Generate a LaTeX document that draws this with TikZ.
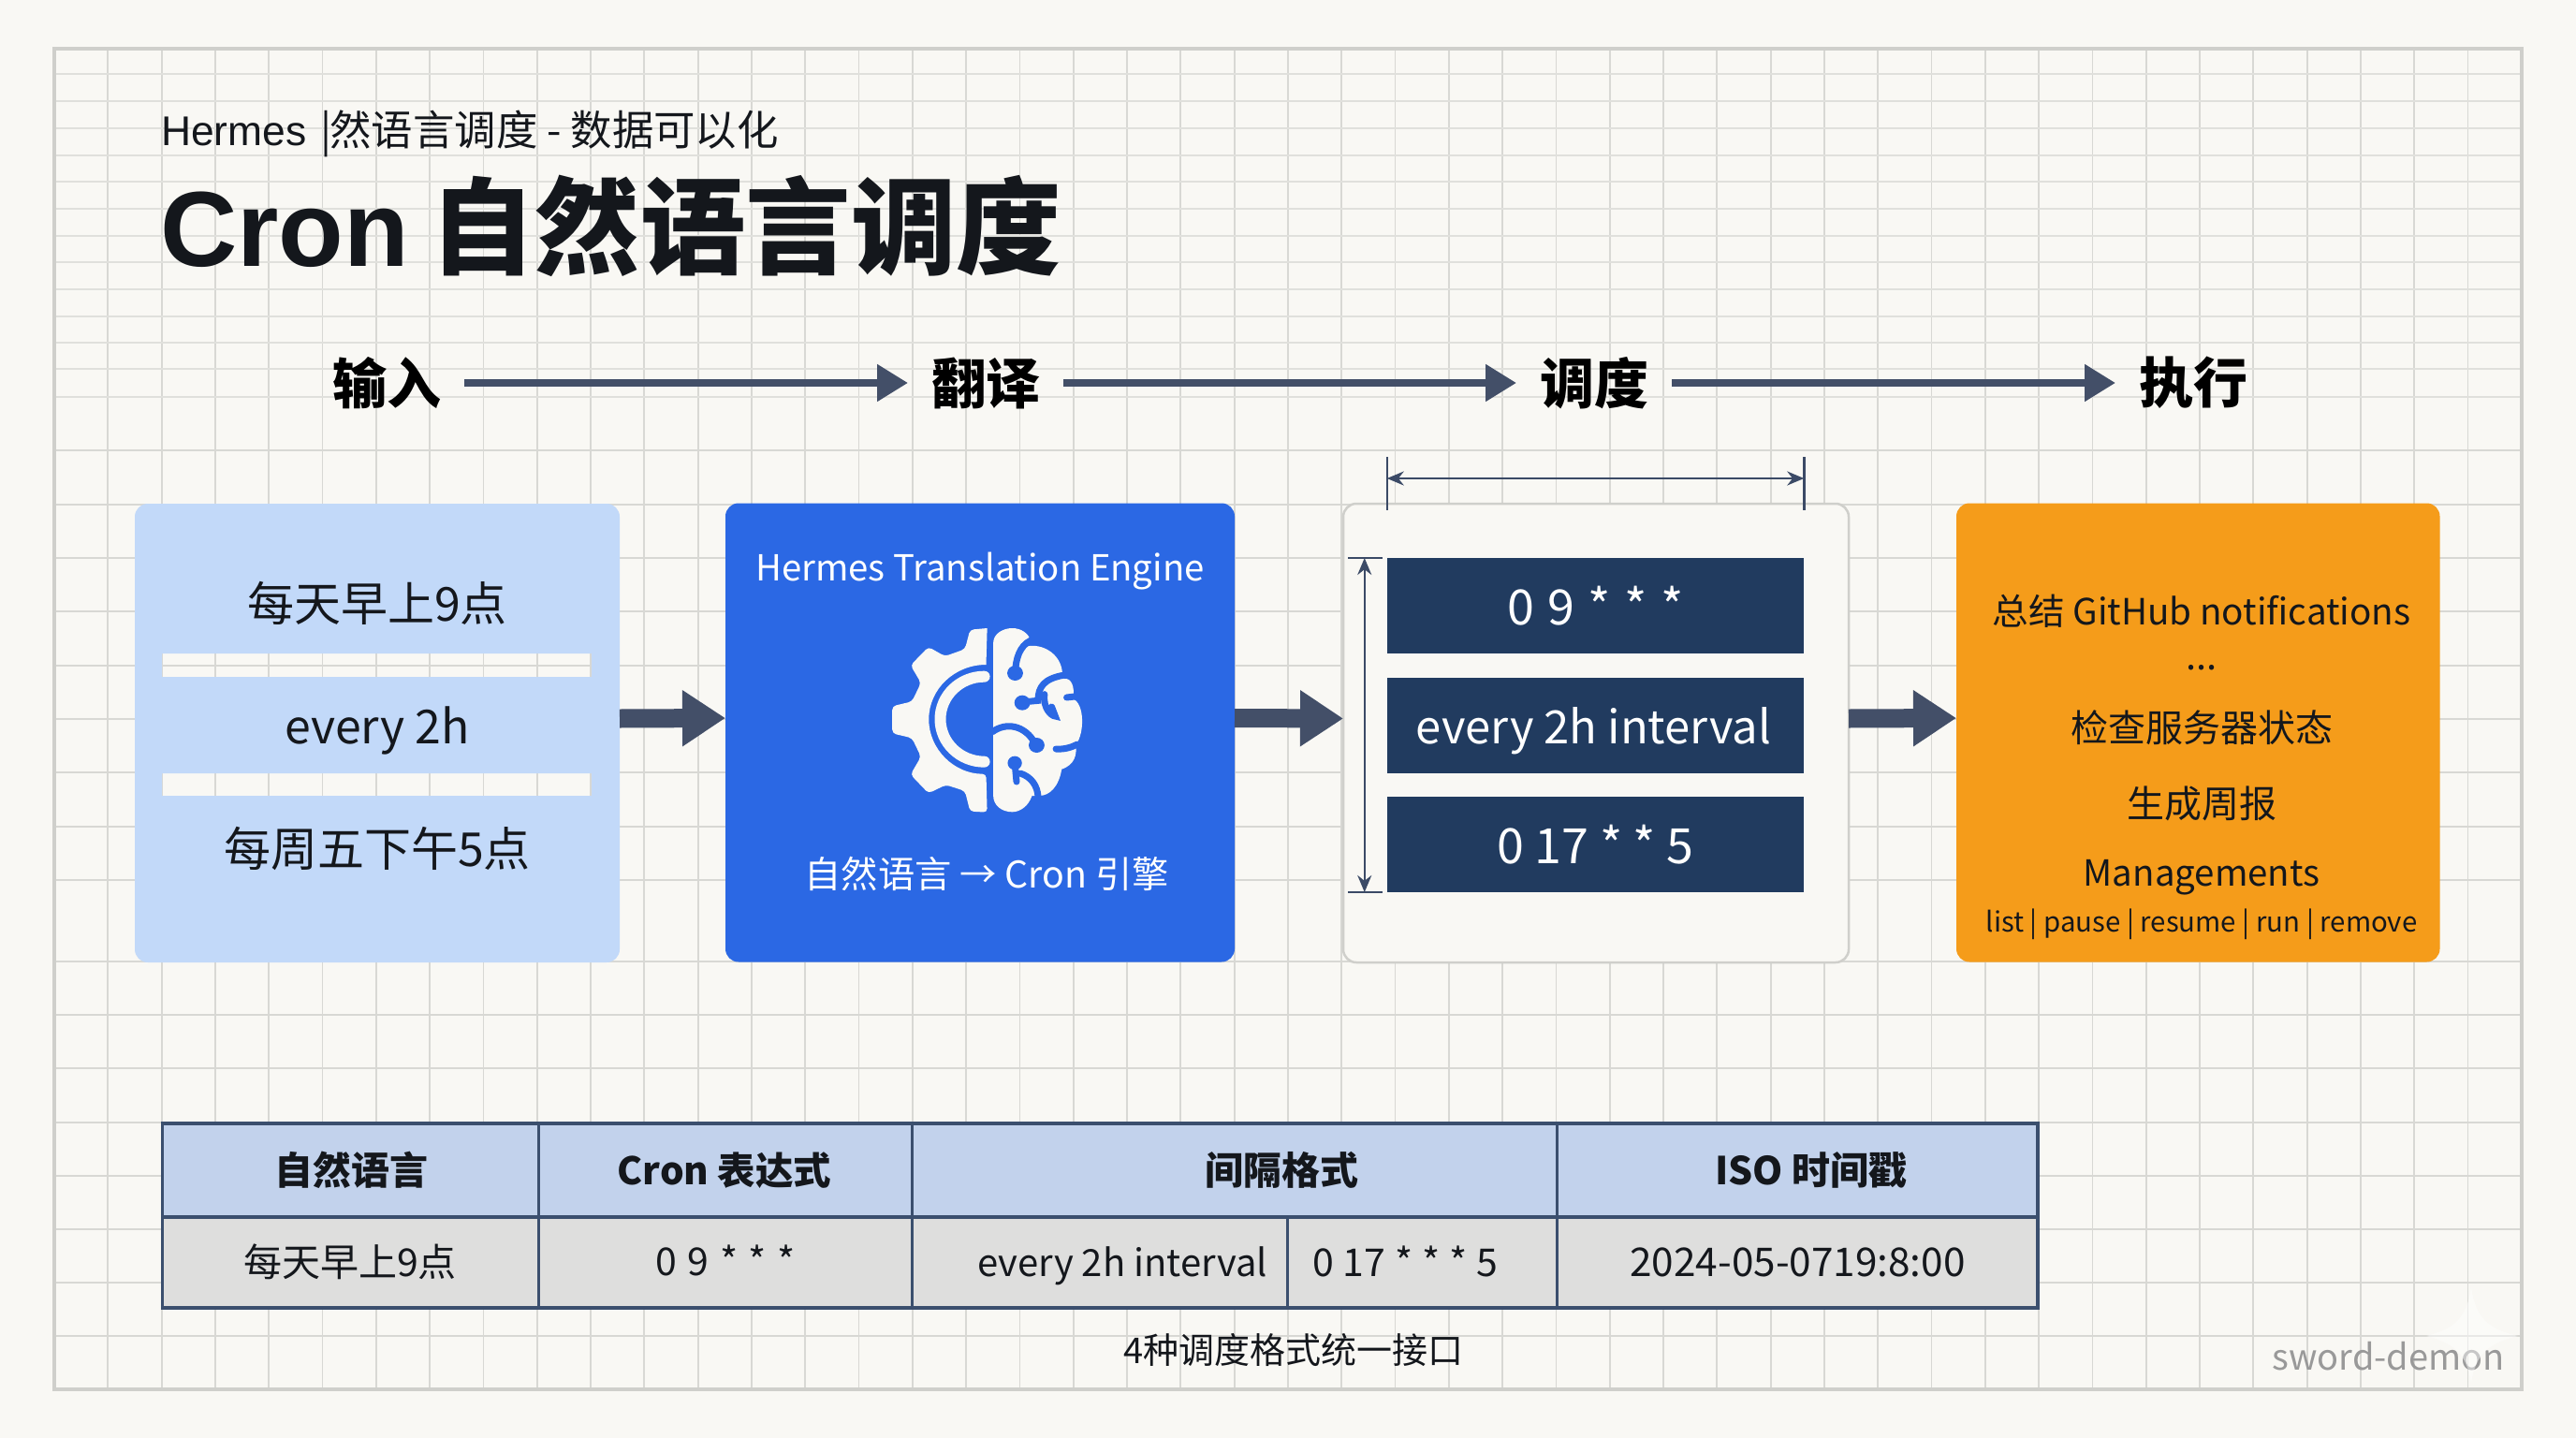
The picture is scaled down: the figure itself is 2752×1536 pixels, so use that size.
\documentclass[tikz,border=0pt]{standalone}
\usepackage{fontspec}
\setmainfont{Noto Sans CJK SC}
\newfontfamily\latinsans{Liberation Sans}
\usetikzlibrary{arrows.meta,calc}
\definecolor{pagebg}{HTML}{F9F8F4}
\definecolor{gridc}{HTML}{D8D8D4}
\definecolor{gridl}{HTML}{E0E0DC}
\definecolor{framec}{HTML}{CFCFCB}
\definecolor{arrowc}{HTML}{434F68}
\definecolor{dimc}{HTML}{3B4A66}
\definecolor{lightb}{HTML}{C2D9F9}
\definecolor{blueb}{HTML}{2B68E4}
\definecolor{orangeb}{HTML}{F59C1A}
\definecolor{navyb}{HTML}{213B5F}
\definecolor{headc}{HTML}{C2D2EC}
\definecolor{rowc}{HTML}{DEDEDD}
\definecolor{tablec}{HTML}{3B4F6E}
\definecolor{inkc}{HTML}{14171C}
\definecolor{iconc}{HTML}{F9F8F4}
\newcommand{\fsz}[1]{\fontsize{#1}{#1}\selectfont}
\newcommand{\wsp}[2]{\spaceskip=#1em\relax #2}
\tikzset{
  txt/.style={inner sep=0pt,outer sep=0pt,text=inkc,font=\fsz{#1}},
  wtxt/.style={inner sep=0pt,outer sep=0pt,text=white,font=\fsz{#1}},
  stephead/.style={inner xsep=25pt,inner ysep=0pt,outer sep=0pt,text=black,font=\fsz{58}\bfseries},
  steparrow/.style={draw=arrowc,line width=8pt,-{Triangle[length=33pt,width=38pt]}},
  blockarrow/.style={draw=arrowc,line width=20pt,-{Triangle[length=46pt,width=57pt]}},
  cardbox/.style={inner sep=0pt,outer sep=0pt,rounded corners=14pt,minimum width=#1,minimum height=490pt},
  navybar/.style={fill=navyb,inner sep=0pt,outer sep=0pt,minimum width=445.5pt,minimum height=102pt,text=white},
  dimline/.style={draw=dimc,line width=2.5pt},
  dimarrow/.style={draw=dimc,line width=2.5pt,{Stealth[length=18pt,width=15pt]}-{Stealth[length=18pt,width=15pt]}},
  tline/.style={draw=tablec,line width=2.5pt},
  touter/.style={draw=tablec,line width=3.5pt},
  cut/.style={draw=blueb,line width=7pt,line cap=round},
}
\begin{document}
\begin{tikzpicture}[x=1pt,y=-1pt]
\useasboundingbox (0,0) rectangle (2752,1536);
\fill[pagebg] (0,0) rectangle (2752,1536);
% grid
\foreach \k in {1,...,45} \draw[gridc,line width=1.8pt] ({58+57.3*\k},52) -- ({58+57.3*\k},1484);
\foreach \yy in {79,108,137,166,194,223,252,280,309,338,366,394,424}
  \draw[gridl,line width=1.8pt] (58,\yy) -- (2694,\yy);
\foreach \yy in {481,539,596,653,711,768,825,883,940,1027,1084,1141,1199,1256,1313,1370,1427}
  \draw[gridc,line width=1.8pt] (58,\yy) -- (2694,\yy);
\draw[framec,line width=3.5pt] (58,52) rectangle (2694,1484);
% title
\node[txt=44.4,anchor=base west] (subtitle) at (172,156) {{\latinsans Hermes}\hspace{15pt}|\hspace{-2pt}然语言调度 - 数据可以化};
\node[txt=112.5,anchor=base west] (title) at (171,284) {{\latinsans\fontsize{114}{114}\selectfont\bfseries Cron}\hspace{22.5pt}\bfseries 自然语言调度};
% steps
\node[stephead] (s1) at (413,409) {输入};
\node[stephead] (s2) at (1053,409) {翻译};
\node[stephead] (s3) at (1703,409) {调度};
\node[stephead] (s4) at (2343,409) {执行};
\draw[steparrow] (s1) -- (s2);
\draw[steparrow] (s2) -- (s3);
\draw[steparrow] (s3) -- (s4);
% input card with two cut-out bars
\fill[lightb,even odd rule,rounded corners=14pt] (144,538) rectangle (662,1028)
  [sharp corners] (173,698) rectangle (632,723) (173,826) rectangle (632,850);
\node[cardbox=518pt] (cinput) at (403,783) {};
\node[txt=50] (i1) at (403,644) {每天早上9点};
\node[txt=50] (i2) at (403,780) {every 2h};
\node[txt=50] (i3) at (403,906) {每周五下午5点};
% engine card
\node[cardbox=544pt,fill=blueb] (cengine) at (1047,782.5) {};
\node[wtxt=38.3] (e1) at (1047,610) {Hermes Translation Engine};
\node[wtxt=39.3] (e2) at (1054,933) {自然语言 → Cron 引擎};
% icon
\begin{scope}[shift={(760,520)},x=0.38265pt,y=-0.33333pt]
  \fill[iconc,rounded corners=4pt] (770,453) -- (722,458) -- (708,520) -- (652,543) -- (606,513) -- (556,572) -- (585,628) -- (560,688) -- (505,703) -- (505,790) -- (560,805) -- (585,865) -- (556,922) -- (606,982) -- (655,955) -- (708,975) -- (722,1040) -- (770,1043) -- (767,920) [sharp corners] arc[start angle=90,end angle=270,x radius=160,y radius=175] -- cycle;
  \draw[iconc,line width=12pt,line cap=round] (762,608) arc[start angle=-90,end angle=-270,x radius=123,y radius=136.5];
  \fill[iconc] (787,500) .. controls (787,470) and (815,453) .. (840,453)
    .. controls (865,453) and (885,470) .. (890,490)
    -- (870,515) .. controls (915,495) and (978,530) .. (980,600)
    -- (985,615) .. controls (1005,612) and (1015,640) .. (1010,680)
    .. controls (1042,695) and (1042,790) .. (1018,825)
    .. controls (1020,860) and (1015,890) .. (978,905)
    .. controls (970,960) and (945,990) .. (915,990)
    -- (895,990) .. controls (885,1025) and (860,1042) .. (840,1042)
    .. controls (810,1042) and (787,1020) .. (787,990) -- cycle;
  \draw[cut] (892,492) .. controls (860,510) and (850,550) .. (848,597);
  \fill[blueb] (848,597) ellipse[x radius=22,y radius=24];
  \draw[cut] (982,604) .. controls (930,615) and (912,640) .. (912,685) -- (868,690);
  \fill[blueb] (868,692) ellipse[x radius=22,y radius=24];
  \draw[cut] (930,665) .. controls (925,710) and (950,735) .. (960,735) -- (950,705);
  \draw[cut] (1014,672) -- (992,675);
  \draw[cut] (785,785) .. controls (820,755) and (875,760) .. (905,825);
  \fill[blueb] (908,828) ellipse[x radius=22,y radius=24];
  \draw[cut] (962,840) .. controls (985,842) and (1005,835) .. (1022,825);
  \fill[blueb] (847,885) ellipse[x radius=20,y radius=22];
  \draw[cut] (847,885) -- (852,945);
  \draw[cut] (862,918) .. controls (895,930) and (910,960) .. (912,992);
\end{scope}
% schedule card
\node[cardbox=540pt,fill=pagebg,draw=framec,line width=2.5pt] (csched) at (1705,783) {};
\node[navybar,font=\fsz{52}] (b1) at (1704.5,647) {\wsp{0.28}{0 9 * * *}};
\node[navybar,font=\fsz{49}] (b2) at (1704.5,774.5) {};
\node[txt=49,text=white] (b2t) at (1702.5,781) {every 2h interval};
\node[navybar,font=\fsz{52}] (b3) at (1704.5,902) {\wsp{0.22}{0 17 * * 5}};
\draw[dimline] ([yshift=108pt]b1.north west) -- ([yshift=51pt]b1.north west);
\draw[dimline] ([yshift=108pt]b1.north east) -- ([yshift=51pt]b1.north east);
\draw[dimarrow] ([yshift=85pt]b1.north west) -- ([yshift=85pt]b1.north east);
\draw[dimline] ([xshift=-41.5pt]b1.north west) -- ([xshift=-5pt]b1.north west);
\draw[dimline] ([xshift=-41.5pt]b3.south west) -- ([xshift=-5pt]b3.south west);
\draw[dimarrow] ([xshift=-24pt]b1.north west) -- ([xshift=-24pt]b3.south west);
% output card
\node[cardbox=516.5pt,fill=orangeb] (coutput) at (2348.25,782.5) {};
\node[txt=38.6] (o1) at (2352,653) {总结 GitHub notifications};
\node[txt=40] (o2) at (2352,713) {...};
\node[txt=40] (o3) at (2352,777) {检查服务器状态};
\node[txt=40] (o4) at (2352,858) {生成周报};
\node[txt=38.4] (o5) at (2352,937) {Managements};
\node[txt=29.4] (o6) at (2352,987) {list | pause | resume | run | remove};
% block arrows
\draw[blockarrow] ([yshift=15.5pt]cinput.east) -- ([yshift=15.5pt]cengine.west);
\draw[blockarrow] ([yshift=15.5pt]cengine.east) -- ([yshift=15.5pt]csched.west);
\draw[blockarrow] ([yshift=15.5pt]csched.east) -- ([yshift=15.5pt]coutput.west);
% table
\fill[headc] (173.5,1200) rectangle (2177,1300);
\fill[rowc] (173.5,1300) rectangle (2177,1397);
\draw[tline] (575.5,1200) -- (575.5,1397);
\draw[tline] (974.7,1200) -- (974.7,1397);
\draw[tline] (1663.5,1200) -- (1663.5,1397);
\draw[tline] (1375.7,1300) -- (1375.7,1397);
\draw[touter] (173.5,1300) -- (2177,1300);
\draw[touter] (173.5,1200) rectangle (2177,1397);
\node[txt=41] (h1) at (375,1250) {\bfseries 自然语言};
\node[txt=40.5] (h2) at (774,1250) {\bfseries Cron 表达式};
\node[txt=41] (h3) at (1369,1250) {\bfseries 间隔格式};
\node[txt=41] (h4) at (1935,1250) {\bfseries ISO 时间戳};
\node[txt=41] (r1) at (374,1348) {每天早上9点};
\node[txt=41] (r2) at (775,1346) {\wsp{0.28}{0 9 * * *}};
\node[txt=40] (r3) at (1199,1352) {every 2h interval};
\node[txt=41] (r4) at (1501,1347) {\wsp{0.24}{0 17 * * * 5}};
\node[txt=42.3] (r5) at (1920.5,1348) {2024-05-0719:8:00};
\node[txt=38] (cap) at (1382,1442) {4种调度格式统一接口};
% watermark
\node[inner sep=0pt,text=black!40,font=\fsz{38},anchor=base east] (wm) at (2676,1463) {sword-demon};
\fill[white,opacity=0.45] (2640,1375) .. controls (2645,1410) and (2660,1420) .. (2690,1427) .. controls (2660,1434) and (2645,1445) .. (2640,1477) .. controls (2635,1445) and (2620,1434) .. (2592,1427) .. controls (2620,1420) and (2635,1410) .. (2640,1375) -- cycle;
\end{tikzpicture}
\end{document}
